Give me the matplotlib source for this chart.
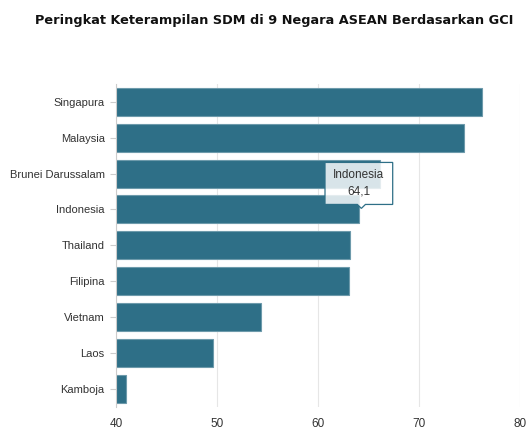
import matplotlib.pyplot as plt
from matplotlib.patches import Polygon

# Data
countries = ['Singapura', 'Malaysia', 'Brunei Darussalam', 'Indonesia', 'Thailand',
             'Filipina', 'Vietnam', 'Laos', 'Kamboja']
scores = [76.2, 74.5, 66.1, 64.1, 63.2, 63.1, 54.4, 49.6, 41.0]
xticks = [40, 50, 60, 70, 80]
highlight = 'Indonesia'

bar_color = '#2e6f87'

fig = plt.figure(figsize=(5.29, 4.32), dpi=100)
ax = fig.add_axes([0.219, 0.058, 0.764, 0.748])

y = list(range(len(countries)))
ax.barh(y, scores, left=0, height=0.78, color=bar_color, edgecolor='#6d9aab',
        linewidth=0.8, zorder=2)
ax.set_xlim(40, 80)
ax.set_ylim(len(countries) - 0.5, -0.5)

ax.set_yticks(y)
ax.set_yticklabels(countries, fontsize=8, color='#333333', family='Liberation Sans')
ax.set_xticks(xticks)
ax.set_xticklabels([str(t) for t in xticks], fontsize=8.5, color='#333333',
                   family='Liberation Sans')
ax.tick_params(axis='x', length=0, pad=8)
ax.tick_params(axis='y', length=4, color='#cccccc', pad=4)

ax.grid(axis='x', color='#e6e6e6', linewidth=0.8, zorder=0)
for s in ['top', 'right', 'bottom']:
    ax.spines[s].set_visible(False)
ax.spines['left'].set_color('#cccccc')
ax.spines['left'].set_linewidth(0.8)

# tooltip
i = countries.index(highlight)
v = scores[i]
bx0, bx1 = v - 3.4, v + 3.3
by0, by1 = i - 0.14, i - 1.31
tip = Polygon([(bx0, by0), (v - 0.2, by0), (v + 0.2, i - 0.03), (v + 0.6, by0),
               (bx1, by0), (bx1, by1), (bx0, by1)], closed=True,
              facecolor='white', alpha=0.82, edgecolor='none', zorder=4)
ax.add_patch(tip)
tip_edge = Polygon(tip.get_xy(), closed=True, facecolor='none',
                   edgecolor=bar_color, linewidth=0.9, zorder=5)
ax.add_patch(tip_edge)
ax.text((bx0 + bx1) / 2, (by0 + by1) / 2,
        f'{highlight}\n{str(v).replace(".", ",")}', ha='center', va='center',
        fontsize=8.5, color='#333333', family='Liberation Sans',
        linespacing=1.5, zorder=6)

fig.text(0.518, 0.953, 'Peringkat Keterampilan SDM di 9 Negara ASEAN Berdasarkan GCI',
         ha='center', va='center', fontsize=9.3, fontweight='bold', color='#111111')

fig.savefig('out.png', dpi=100)
